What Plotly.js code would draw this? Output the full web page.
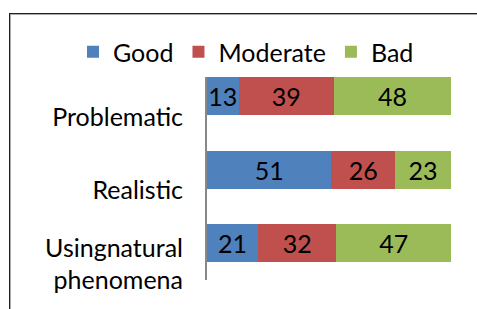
<!DOCTYPE html>
<html>
<head>
<meta charset="utf-8">
<script src="https://cdn.plot.ly/plotly-3.0.1.min.js"></script>
<style>
html,body{margin:0;padding:0;background:#fff;overflow:hidden;}
#wrap{position:relative;width:477px;height:309px;}
#frame{position:absolute;left:9px;top:13px;width:500px;height:400px;border:1px solid #222;box-shadow:inset 1px 1px 0 #aaa;box-sizing:border-box;pointer-events:none;}
#chart{position:absolute;left:0;top:0;width:477px;height:309px;}
</style>
</head>
<body>
<div id="wrap">
<div id="chart"></div>
<div id="frame"></div>
</div>
<script>
const categories = ["Problematic", "Realistic", "Usingnatural<br>phenomena"];
const seriesNames = ["Good", "Moderate", "Bad"];
const good = [13, 51, 21];
const moderate = [39, 26, 32];
const bad = [48, 23, 47];
const colors = ["#4F81BD", "#C0504D", "#9BBB59"];

const FONT = "Lato, 'Open Sans', sans-serif";
const FS = 25;
const seriesValues = [good, moderate, bad];
const data = seriesValues.map((vals, i) => ({
  type: "bar",
  orientation: "h",
  name: seriesNames[i],
  y: categories,
  x: vals,
  width: 0.517,
  marker: {color: colors[i], line: {width: 0}},
  text: vals.map(String),
  textposition: "inside",
  insidetextanchor: "middle",
  constraintext: "none",
  textangle: 0,
  textfont: {family: FONT, size: FS, color: "#000"},
  hoverinfo: "x+name"
}));

const layout = {
  width: 477,
  height: 309,
  barmode: "stack",
  paper_bgcolor: "rgba(0,0,0,0)",
  plot_bgcolor: "rgba(0,0,0,0)",
  margin: {l: 207, r: 26, t: 77, b: 29, pad: 0, autoexpand: false},
  font: {family: FONT, size: FS, color: "#000"},
  xaxis: {
    range: [0, 100],
    visible: false,
    fixedrange: true
  },
  yaxis: {
    type: "category",
    categoryorder: "array",
    categoryarray: categories,
    range: [2.503, -0.2585],
    showline: true,
    linecolor: "#888888",
    linewidth: 2,
    ticks: "",
    showgrid: false,
    zeroline: false,
    automargin: false,
    ticklabelstandoff: 17,
    ticklabelshift: -21,
    tickfont: {family: FONT, size: FS, color: "#000"},
    fixedrange: true
  },
  showlegend: true,
  legend: {
    orientation: "h",
    xref: "paper",
    yref: "paper",
    x: (73 - 207) / 244,
    xanchor: "left",
    y: 1 + (77 - 52) / 203,
    yanchor: "middle",
    font: {family: FONT, size: FS, color: "#000"},
    traceorder: "normal",
    itemwidth: 30,
    bgcolor: "rgba(0,0,0,0)"
  }
};

Plotly.newPlot("chart", data, layout, {displayModeBar: false, staticPlot: true});
</script>
</body>
</html>
